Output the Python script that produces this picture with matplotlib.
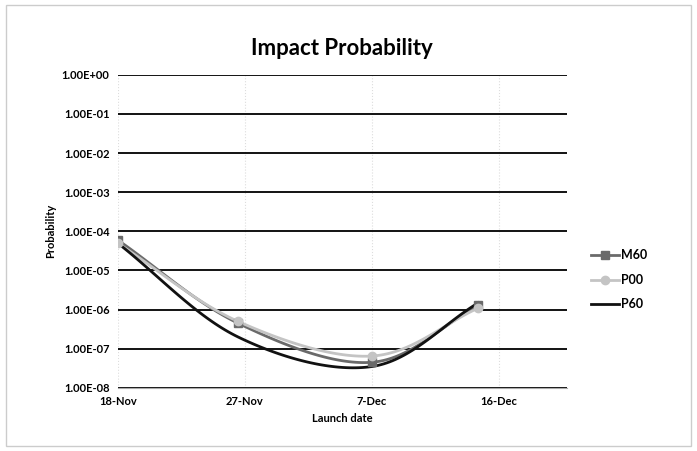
import numpy as np
import matplotlib
matplotlib.use('Agg')
import matplotlib.pyplot as plt

# days after 18-Nov
days = [0, 9, 19, 27]
m60 = [6.0e-5, 4.5e-7, 4.5e-8, 1.3e-6]
p00 = [5.0e-5, 5.0e-7, 6.5e-8, 1.1e-6]
p60 = [5.0e-5, 2.0e-7, 3.5e-8, 1.5e-6]

x_ticks = [0, 9.5, 19, 28.5]
x_labels = ['18-Nov', '27-Nov', '7-Dec', '16-Dec']
y_ticks = [1e0, 1e-1, 1e-2, 1e-3, 1e-4, 1e-5, 1e-6, 1e-7, 1e-8]
y_labels = ['1.00E+00', '1.00E-01', '1.00E-02', '1.00E-03', '1.00E-04',
            '1.00E-05', '1.00E-06', '1.00E-07', '1.00E-08']


def smooth(x, y, n=40):
    # catmull-rom through the points, in log space like excel's smoothed line
    x = np.asarray(x, float)
    y = np.log10(y)
    px = np.concatenate(([2 * x[0] - x[1]], x, [2 * x[-1] - x[-2]]))
    py = np.concatenate(([2 * y[0] - y[1]], y, [2 * y[-1] - y[-2]]))
    xs, ys = [], []
    for i in range(1, len(px) - 2):
        t = np.linspace(0, 1, n)
        for p, out in ((px, xs), (py, ys)):
            p0, p1, p2, p3 = p[i - 1], p[i], p[i + 1], p[i + 2]
            out.extend(0.5 * (2 * p1 + (-p0 + p2) * t
                              + (2 * p0 - 5 * p1 + 4 * p2 - p3) * t ** 2
                              + (-p0 + 3 * p1 - 3 * p2 + p3) * t ** 3))
    return np.array(xs), 10 ** np.array(ys)


plt.rcParams['font.family'] = ['Lato', 'DejaVu Sans']

fig = plt.figure(figsize=(6.97, 4.51), dpi=100)
ax = fig.add_axes([0.169, 0.140, 0.644, 0.694])
ax.set_yscale('log')

series = [('M60', m60, '#6a6a6a', 's', 2.0),
          ('P00', p00, '#c4c4c4', 'o', 2.0),
          ('P60', p60, '#111111', None, 2.0)]
for name, vals, col, mk, lw in series:
    sx, sy = smooth(days, vals)
    ax.plot(sx, sy, color=col, lw=lw, zorder=3)
    ax.plot([], [], color=col, lw=lw, marker=mk, ms=6, label=name)
    if mk:
        ax.plot(days, vals, ls='none', marker=mk, ms=6, color=col, zorder=4)

ax.set_xlim(0, 33.6)
ax.set_ylim(1e-8, 1e0)
ax.set_yticks(y_ticks)
ax.set_yticklabels(y_labels)
ax.yaxis.set_minor_locator(matplotlib.ticker.NullLocator())
ax.set_xticks(x_ticks)
ax.set_xticklabels(x_labels)

ax.grid(axis='y', color='black', lw=1.3)
ax.grid(axis='x', color='#dddddd', lw=0.8, ls=':')
for s in ['top', 'right', 'left']:
    ax.spines[s].set_visible(False)
ax.spines['bottom'].set_color('#aaaaaa')
ax.spines['bottom'].set_linestyle((0, (3, 1)))
ax.tick_params(length=0, labelsize=8, pad=6)
for lab in ax.get_xticklabels() + ax.get_yticklabels():
    lab.set_fontweight('bold')

ax.set_title('Impact Probability', fontsize=16, fontweight='bold', pad=14)
ax.set_xlabel('Launch date', fontsize=8, fontweight='bold', labelpad=4)
ax.set_ylabel('Probability', fontsize=8, fontweight='bold', labelpad=4)

leg = ax.legend(loc='center left', bbox_to_anchor=(1.03, 0.345), frameon=False,
                fontsize=9, handlelength=2.2, labelspacing=1.0, handletextpad=0.2)
for t in leg.get_texts():
    t.set_fontweight('bold')

fig.patches.append(plt.Rectangle((0.008, 0.012), 0.984, 0.976, transform=fig.transFigure,
                                 fill=False, ec='#cccccc', lw=1))

fig.savefig('out.png', dpi=100)
